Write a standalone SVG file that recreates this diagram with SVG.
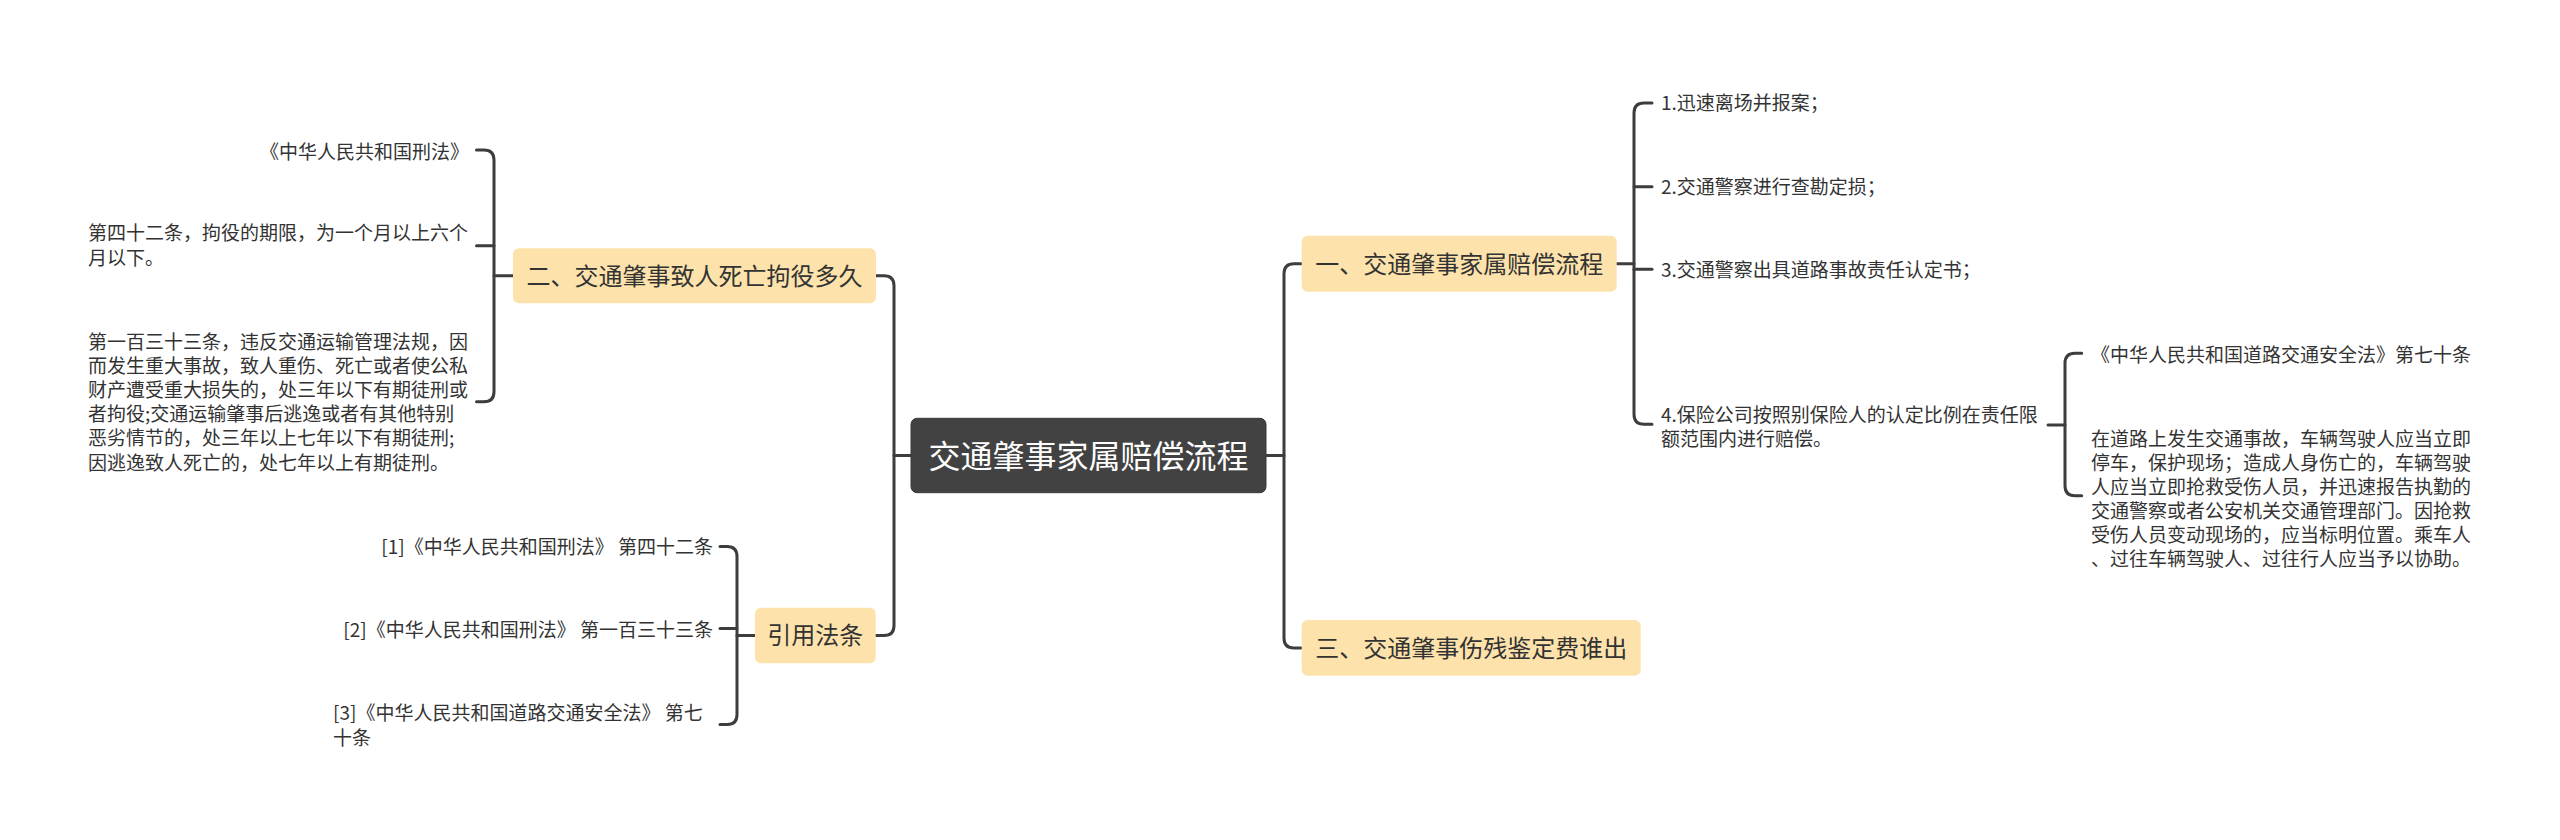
<svg xmlns="http://www.w3.org/2000/svg" width="2560" height="840" viewBox="0 0 2560 840">
<style>
.c{fill:none;stroke:#3d3d3d;stroke-width:3;stroke-linecap:round;stroke-linejoin:round}
.n{fill:#fde3ab}
.t{font-family:"Noto Sans CJK SC","Noto Sans",sans-serif;fill:#333}
.s{font-size:19px}
.m{font-size:24px;text-anchor:middle}
.r{text-anchor:end}
</style>
<rect width="2560" height="840" fill="#fff"/>
<g id="connectors">
<path class="c" d="M911,455.5 H894"/>
<path class="c" d="M1266,455.5 H1284"/>
<path class="c" d="M876,275.7 H884 Q894,275.7 894,285.7 V625.5 Q894,635.5 884,635.5 H876"/>
<path class="c" d="M1301.7,263.7 H1294 Q1284,263.7 1284,273.7 V638 Q1284,648 1294,648 H1301.7"/>
<path class="c" d="M513,275.7 H494"/>
<path class="c" d="M476.5,150 H484 Q494,150 494,160 V391.7 Q494,401.7 484,401.7 H476.5"/>
<path class="c" d="M476.5,245.7 H494"/>
<path class="c" d="M755,635.5 H737"/>
<path class="c" d="M720,546.5 H727 Q737,546.5 737,556.5 V714.5 Q737,724.5 727,724.5 H720"/>
<path class="c" d="M720,628.5 H737"/>
<path class="c" d="M1616.7,263.7 H1634"/>
<path class="c" d="M1652,103 H1644 Q1634,103 1634,113 V414.3 Q1634,424.3 1644,424.3 H1652"/>
<path class="c" d="M1634,186.7 H1652"/>
<path class="c" d="M1634,269.3 H1652"/>
<path class="c" d="M2048,425 H2065"/>
<path class="c" d="M2081.7,353.3 H2075 Q2065,353.3 2065,363.3 V485.7 Q2065,495.7 2075,495.7 H2081.7"/>
</g>
<g id="root">
<rect x="911" y="418.3" width="355" height="74.4" rx="6" fill="#424242" stroke="#3a3a3a" stroke-width="1"/>
<text x="1088.5" y="467.5" font-family="Noto Sans CJK SC, sans-serif" font-size="32" fill="#fff" text-anchor="middle">交通肇事家属赔偿流程</text>
</g>
<g id="n1">
<rect class="n" x="1301.7" y="235.7" width="315" height="56" rx="6"/>
<text class="t m" x="1459.2" y="272.5">一、交通肇事家属赔偿流程</text>
</g>
<g id="n1-1"><text class="t s" x="1661" y="110.3">1.迅速离场并报案；</text></g>
<g id="n1-2"><text class="t s" x="1661" y="193.7">2.交通警察进行查勘定损；</text></g>
<g id="n1-3"><text class="t s" x="1661" y="276.5">3.交通警察出具道路事故责任认定书；</text></g>
<g id="n1-4"><text class="t s" x="1661" y="422">4.保险公司按照别保险人的认定比例在责任限<tspan x="1661" dy="23.5">额范围内进行赔偿。</tspan></text></g>
<g id="n1-4-1"><text class="t s" x="2091" y="362">《中华人民共和国道路交通安全法》第七十条</text></g>
<g id="n1-4-2"><text class="t s" x="2091" y="445.5">在道路上发生交通事故，车辆驾驶人应当立即<tspan x="2091" dy="24">停车，保护现场；造成人身伤亡的，车辆驾驶</tspan><tspan x="2091" dy="24">人应当立即抢救受伤人员，并迅速报告执勤的</tspan><tspan x="2091" dy="24">交通警察或者公安机关交通管理部门。因抢救</tspan><tspan x="2091" dy="24">受伤人员变动现场的，应当标明位置。乘车人</tspan><tspan x="2091" dy="24">、过往车辆驾驶人、过往行人应当予以协助。</tspan></text></g>
<g id="n3">
<rect class="n" x="1301.7" y="620" width="339" height="55.7" rx="6"/>
<text class="t m" x="1471.2" y="656.6">三、交通肇事伤残鉴定费谁出</text>
</g>
<g id="n2">
<rect class="n" x="513" y="248.2" width="363" height="55" rx="6"/>
<text class="t m" x="694.5" y="284.6">二、交通肇事致人死亡拘役多久</text>
</g>
<g id="n2-1"><text class="t s r" x="469" y="158.7">《中华人民共和国刑法》</text></g>
<g id="n2-2"><text class="t s" x="88" y="240">第四十二条，拘役的期限，为一个月以上六个<tspan x="88" dy="25">月以下。</tspan></text></g>
<g id="n2-3"><text class="t s" x="88" y="349">第一百三十三条，违反交通运输管理法规，因<tspan x="88" dy="24.1">而发生重大事故，致人重伤、死亡或者使公私</tspan><tspan x="88" dy="24.1">财产遭受重大损失的，处三年以下有期徒刑或</tspan><tspan x="88" dy="24.1">者拘役;交通运输肇事后逃逸或者有其他特别</tspan><tspan x="88" dy="24.1">恶劣情节的，处三年以上七年以下有期徒刑;</tspan><tspan x="88" dy="24.1">因逃逸致人死亡的，处七年以上有期徒刑。</tspan></text></g>
<g id="n4">
<rect class="n" x="755" y="607.7" width="120.7" height="55.6" rx="6"/>
<text class="t m" x="815.3" y="644.4">引用法条</text>
</g>
<g id="n4-1"><text class="t s r" x="713" y="553.7">[1]《中华人民共和国刑法》 第四十二条</text></g>
<g id="n4-2"><text class="t s r" x="713" y="637">[2]《中华人民共和国刑法》 第一百三十三条</text></g>
<g id="n4-3"><text class="t s" x="333" y="720.3">[3]《中华人民共和国道路交通安全法》 第七<tspan x="333" dy="25">十条</tspan></text></g>
</svg>
